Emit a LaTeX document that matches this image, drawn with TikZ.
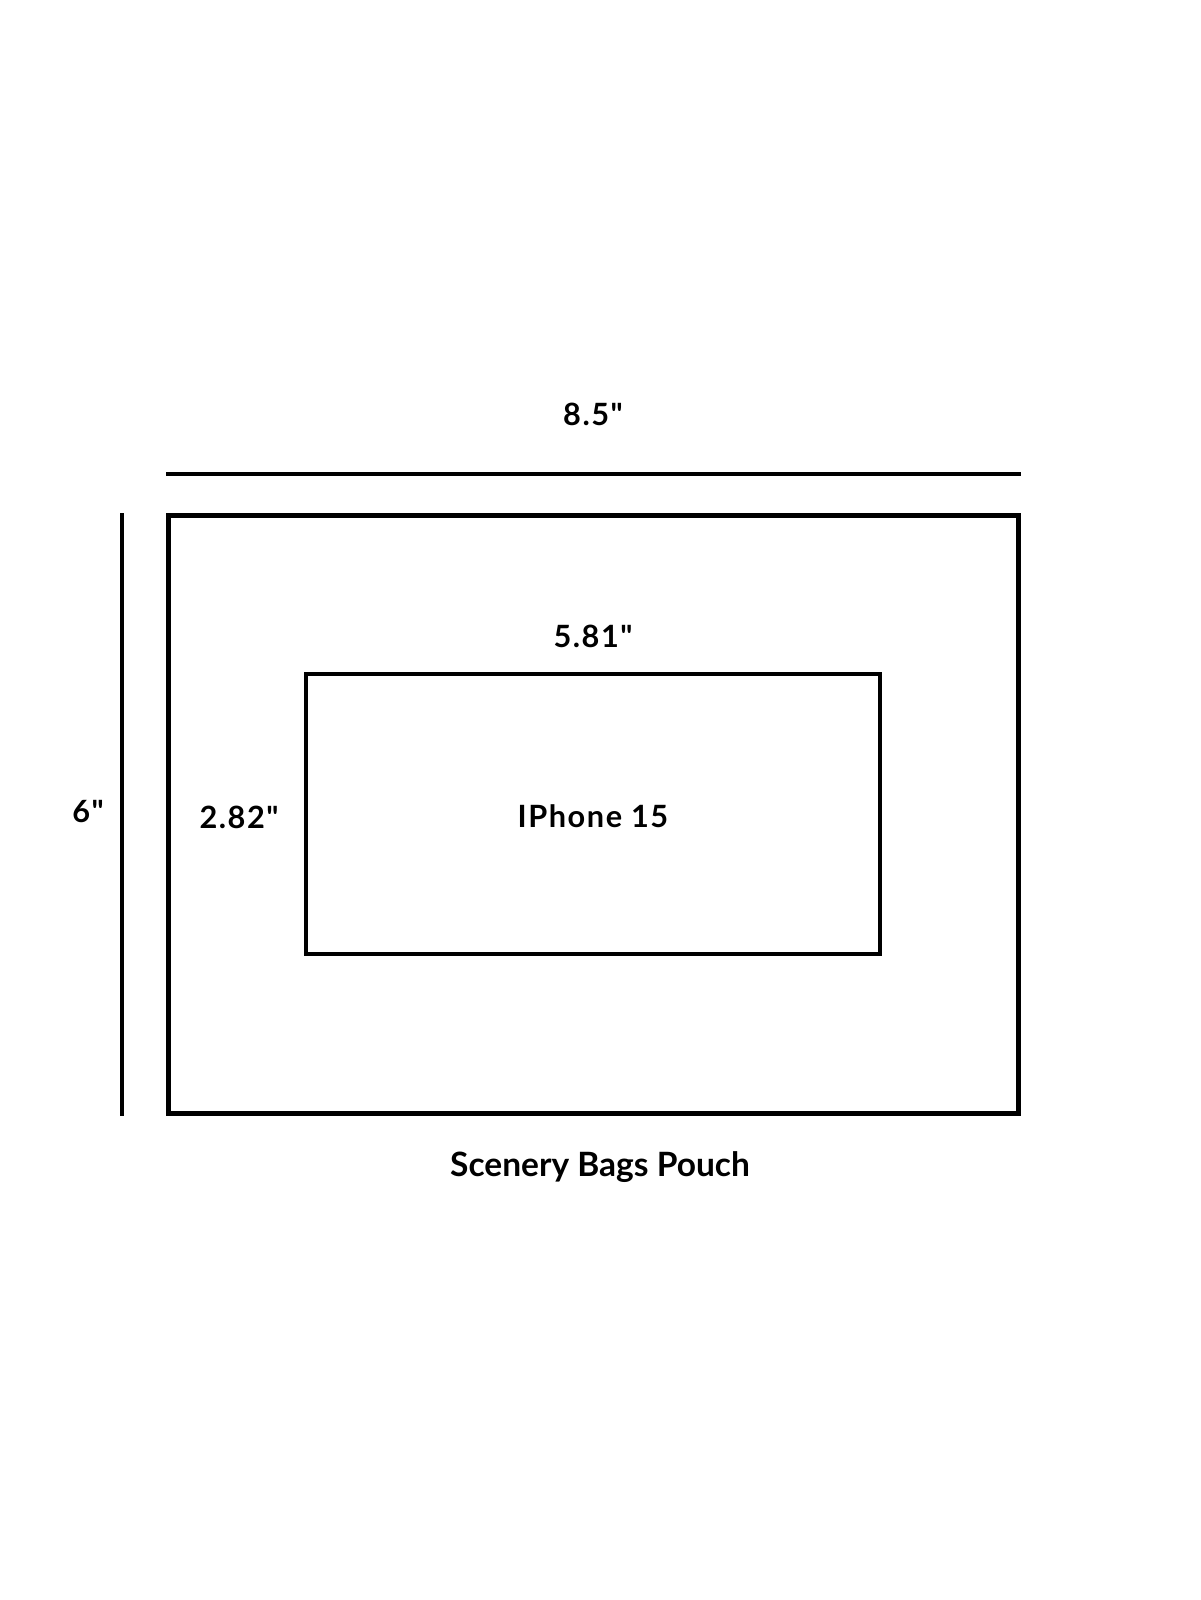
\documentclass[tikz,border=0pt]{standalone}
\usepackage{fontspec}
\newfontfamily\labfont{Lato}
\newfontfamily\dimfont{Lato}[LetterSpace=5]
\tikzset{
  dimline/.style={line width=#1, line cap=butt},
  lab/.style={font=\dimfont\bfseries\fontsize{30.7}{36}\selectfont, inner sep=0pt, anchor=base},
  box/.style={draw, line width=#1, inner sep=0pt}
}
\begin{document}
\begin{tikzpicture}[x=1pt,y=-1pt]
\useasboundingbox (0,0) rectangle (1200,1600);
% outer pouch
\node[box=5pt, minimum width=850pt, minimum height=598pt] (pouch) at (593,814.5) {};
% inner phone
\node[box=4pt, minimum width=574pt, minimum height=280pt] (phone) at (593,814) {};
% dimension lines
\coordinate (tl) at (166,474);
\coordinate (tr) at (1021,474);
\coordinate (vt) at (122,513);
\coordinate (vb) at (122,1116);
\draw[dimline=4pt] (tl) -- (tr);
\draw[dimline=3.6pt] (vt) -- (vb);
% labels
\node[lab] (w) at (593,425) {8.5"};
\node[lab] (pw) at (593,647) {5.81"};
\node[lab] (h) at (88,822) {6"};
\node[lab] (ph) at (239,828) {2.82"};
\node[lab] (name) at (593,827) {IPhone 15};
\node[lab, font=\labfont\bfseries\fontsize{33.5}{40}\selectfont] (title) at (600,1176) {Scenery Bags Pouch};
\end{tikzpicture}
\end{document}
